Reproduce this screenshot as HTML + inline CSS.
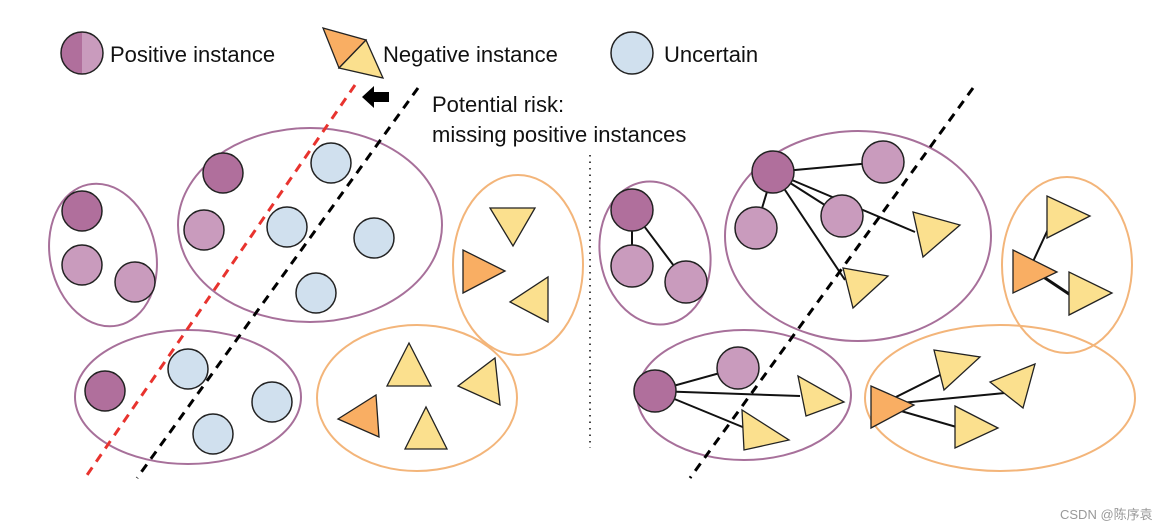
<!DOCTYPE html>
<html><head><meta charset="utf-8"><style>
html,body{margin:0;padding:0;background:#fff;width:1173px;height:530px;overflow:hidden}
svg{display:block}
text{font-family:"Liberation Sans",Arial,sans-serif}
</style></head><body>
<svg width="1173" height="530" viewBox="0 0 1173 530" xmlns="http://www.w3.org/2000/svg">
<defs>
<style>
.pd{fill:#b06f9c;stroke:#222;stroke-width:1.5}
.pl{fill:#c99bbd;stroke:#222;stroke-width:1.5}
.un{fill:#d0e0ee;stroke:#222;stroke-width:1.5}
.ty{fill:#fbe08e;stroke:#222;stroke-width:1.3}
.to{fill:#f9ae63;stroke:#222;stroke-width:1.3}
.ep{fill:none;stroke:#a7709a;stroke-width:2}
.eo{fill:none;stroke:#f3b57a;stroke-width:2}
.ln{stroke:#111;stroke-width:2}
</style>
</defs>
<!-- legend -->
<path d="M82,32 A21,21 0 0 0 82,74 Z" fill="#b06f9c"/>
<path d="M82,32 A21,21 0 0 1 82,74 Z" fill="#c99bbd"/>
<circle cx="82" cy="53" r="21" fill="none" stroke="#222" stroke-width="1.5"/>
<text x="110" y="62" font-size="22" fill="#111">Positive instance</text>
<polygon points="323,28 366,40 339,68" class="to"/>
<polygon points="366,40 383,78 339,68" class="ty"/>
<text x="383" y="62" font-size="22" fill="#111">Negative instance</text>
<circle cx="632" cy="53" r="21" class="un"/>
<text x="664" y="62" font-size="22" fill="#111">Uncertain</text>
<text x="432" y="112" font-size="22" fill="#111">Potential risk:</text>
<text x="432" y="142" font-size="22" fill="#111">missing positive instances</text>
<polygon points="362,97 374,86 374,92 389,92 389,102 374,102 374,108" fill="#000"/>
<line x1="590" y1="155" x2="590" y2="448" stroke="#444" stroke-width="2" stroke-dasharray="1.5,5"/>

<!-- left side ellipses -->
<ellipse cx="310" cy="225" rx="132" ry="97" class="ep"/>
<ellipse cx="103" cy="255" rx="53" ry="72" transform="rotate(-12 103 255)" class="ep"/>
<ellipse cx="518" cy="265" rx="65" ry="90" class="eo"/>
<ellipse cx="188" cy="397" rx="113" ry="67" class="ep"/>
<ellipse cx="417" cy="398" rx="100" ry="73" class="eo"/>
<circle cx="223" cy="173" r="20" class="pd"/>
<circle cx="204" cy="230" r="20" class="pl"/>
<circle cx="82" cy="211" r="20" class="pd"/>
<circle cx="82" cy="265" r="20" class="pl"/>
<circle cx="135" cy="282" r="20" class="pl"/>
<circle cx="105" cy="391" r="20" class="pd"/>
<polygon points="490,208 535,208 513,246" class="ty"/>
<polygon points="463,250 463,293 505,271" class="to"/>
<polygon points="548,277 548,322 510,302" class="ty"/>
<polygon points="387,386 431,386 409,343" class="ty"/>
<polygon points="338,419 379,437 376,395" class="to"/>
<polygon points="458,386 500,405 495,358" class="ty"/>
<polygon points="405,449 447,449 426,407" class="ty"/>
<line x1="355" y1="85" x2="85" y2="478" stroke="#e8332e" stroke-width="3" stroke-dasharray="9,7"/>
<circle cx="331" cy="163" r="20" class="un"/>
<circle cx="287" cy="227" r="20" class="un"/>
<circle cx="374" cy="238" r="20" class="un"/>
<circle cx="316" cy="293" r="20" class="un"/>
<circle cx="188" cy="369" r="20" class="un"/>
<circle cx="272" cy="402" r="20" class="un"/>
<circle cx="213" cy="434" r="20" class="un"/>
<line x1="418" y1="88" x2="137" y2="478" stroke="#000" stroke-width="3" stroke-dasharray="9,7"/>

<!-- right side -->
<ellipse cx="858" cy="236" rx="133" ry="105" class="ep"/>
<ellipse cx="655" cy="253" rx="55" ry="72" transform="rotate(-10 655 253)" class="ep"/>
<ellipse cx="1067" cy="265" rx="65" ry="88" class="eo"/>
<ellipse cx="744" cy="395" rx="107" ry="65" class="ep"/>
<ellipse cx="1000" cy="398" rx="135" ry="73" class="eo"/>
<line x1="773" y1="172" x2="883" y2="162" class="ln"/>
<line x1="773" y1="172" x2="756" y2="228" class="ln"/>
<line x1="773" y1="172" x2="842" y2="216" class="ln"/>
<line x1="773" y1="172" x2="915" y2="232" class="ln"/>
<line x1="773" y1="172" x2="845" y2="280" class="ln"/>
<line x1="632" y1="210" x2="632" y2="266" class="ln"/>
<line x1="632" y1="210" x2="686" y2="282" class="ln"/>
<line x1="655" y1="391" x2="738" y2="368" class="ln"/>
<line x1="655" y1="391" x2="800" y2="396" class="ln"/>
<line x1="655" y1="391" x2="745" y2="428" class="ln"/>
<line x1="880" y1="405" x2="940" y2="375" class="ln"/>
<line x1="880" y1="405" x2="1005" y2="393" class="ln"/>
<line x1="880" y1="405" x2="960" y2="428" class="ln"/>
<line x1="1030" y1="268" x2="1050" y2="225" class="ln"/>
<line x1="1030" y1="268" x2="1072" y2="296" stroke="#111" stroke-width="3"/>
<circle cx="773" cy="172" r="21" class="pd"/>
<circle cx="883" cy="162" r="21" class="pl"/>
<circle cx="842" cy="216" r="21" class="pl"/>
<circle cx="756" cy="228" r="21" class="pl"/>
<polygon points="913,212 960,225 923,257" class="ty"/>
<polygon points="843,268 888,276 853,308" class="ty"/>
<circle cx="632" cy="210" r="21" class="pd"/>
<circle cx="632" cy="266" r="21" class="pl"/>
<circle cx="686" cy="282" r="21" class="pl"/>
<polygon points="1047,196 1047,238 1090,216" class="ty"/>
<polygon points="1013,250 1013,293 1057,272" class="to"/>
<polygon points="1069,272 1069,315 1112,293" class="ty"/>
<circle cx="655" cy="391" r="21" class="pd"/>
<circle cx="738" cy="368" r="21" class="pl"/>
<polygon points="798,376 806,416 844,402" class="ty"/>
<polygon points="742,410 744,450 789,440" class="ty"/>
<polygon points="871,386 871,428 914,405" class="to"/>
<polygon points="934,350 944,390 980,357" class="ty"/>
<polygon points="990,382 1023,408 1035,364" class="ty"/>
<polygon points="955,406 955,448 998,428" class="ty"/>
<line x1="973" y1="88" x2="690" y2="478" stroke="#000" stroke-width="3" stroke-dasharray="9,7"/>
<text x="1060" y="519" font-size="13" fill="#999" font-family="'Liberation Sans','Noto Sans CJK SC',sans-serif">CSDN @陈序袁</text>
</svg>
</body></html>
